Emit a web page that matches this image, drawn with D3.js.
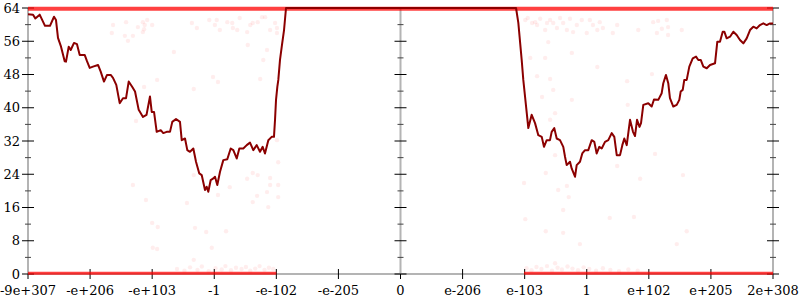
<!DOCTYPE html>
<html>
<head>
<meta charset="utf-8">
<script src="https://cdn.jsdelivr.net/npm/d3@7"></script>
<style>
body { margin: 0; background: #fff; }
text { font-family: "DejaVu Serif", serif; font-size: 13px; fill: #000; }
</style>
</head>
<body>
<div id="chart-area"></div>
<script>
/* float64 ordering vs. count, with outliers */

var xLabels = ["-9e+307", "-e+206", "-e+103", "-1", "-e-102", "-e-205", "0",
    "e-206", "e-103", "1", "e+102", "e+205", "2e+308"];
var xTicks = [0, 1, 2, 3, 4, 5, 6, 7, 8, 9, 10, 11, 12];
var yMajor = [0, 8, 16, 24, 32, 40, 48, 56, 64];
var yMinor = [4, 12, 20, 28, 36, 44, 52, 60];

// median line
var lineX = [0, 0.081, 0.118, 0.188, 0.274, 0.354, 0.419, 0.451, 0.483, 0.532,
    0.591, 0.612, 0.656, 0.688, 0.741, 0.789, 0.833, 0.913, 0.950, 0.994,
    1.047, 1.128, 1.171, 1.224, 1.273, 1.332, 1.369, 1.422, 1.477, 1.530,
    1.579, 1.622, 1.675, 1.724, 1.783, 1.852, 1.909, 1.965, 1.993, 2.030,
    2.073, 2.138, 2.179, 2.234, 2.287, 2.324, 2.384, 2.448, 2.476, 2.529,
    2.566, 2.609, 2.663, 2.706, 2.759, 2.798, 2.851, 2.878, 2.904, 2.943,
    2.985, 3.012, 3.049, 3.093, 3.146, 3.210, 3.265, 3.307, 3.362, 3.404,
    3.468, 3.523, 3.576, 3.629, 3.684, 3.737, 3.780, 3.817, 3.871, 3.925,
    3.962, 3.979, 3.995, 4.016, 4.032, 4.059, 4.091, 4.124, 4.156,
    7.861, 7.898, 7.952, 7.978, 8.017, 8.059, 8.113, 8.167, 8.220, 8.275,
    8.311, 8.355, 8.408, 8.435, 8.477, 8.516, 8.569, 8.622, 8.650, 8.677,
    8.730, 8.757, 8.811, 8.838, 8.891, 8.928, 8.972, 9.025, 9.080, 9.122,
    9.160, 9.202, 9.241, 9.294, 9.347, 9.402, 9.444, 9.483, 9.536, 9.573,
    9.605, 9.644, 9.697, 9.745, 9.777, 9.810, 9.850, 9.874, 9.911, 9.991,
    10.046, 10.083, 10.152, 10.207, 10.233, 10.276, 10.313, 10.340, 10.394, 10.449,
    10.491, 10.513, 10.546, 10.571, 10.610, 10.652, 10.707, 10.760, 10.797, 10.836,
    10.878, 10.933, 10.986, 11.066, 11.103, 11.146, 11.190, 11.216, 11.254, 11.308,
    11.361, 11.415, 11.468, 11.522, 11.576, 11.630, 11.683, 11.737, 11.790, 11.844,
    11.898, 11.952, 12];
var lineY = [62.5, 62.4, 61.5, 62.4, 59.7, 59.7, 61.9, 61.1, 56.8, 54.7,
    51.2, 51.1, 54.7, 53.9, 55.6, 55.3, 52.7, 52.7, 51.2, 49.6,
    49.9, 50.3, 48.7, 46.3, 47.9, 47.9, 47.2, 45.5, 41.1, 42.3,
    42.3, 46.3, 45.1, 43.9, 39.5, 37.8, 38.3, 42.7, 39.0, 39.0,
    34.2, 34.6, 33.9, 34.2, 34.2, 36.6, 37.3, 36.6, 32.2, 32.6,
    29.8, 29.4, 30.2, 27.0, 24.2, 23.8, 20.2, 21.0, 19.8, 22.6,
    23.0, 23.4, 21.4, 24.6, 27.4, 27.6, 30.2, 29.8, 27.8, 30.2,
    30.2, 31.0, 31.6, 29.8, 31.0, 29.4, 30.6, 29.0, 32.2, 33.0,
    33.0, 37.1, 41.9, 45.0, 46.7, 51.5, 55.1, 58.7, 64,
    64, 60.4, 51.5, 46.7, 41.1, 35.1, 38.3, 36.3, 33.4, 33.0,
    30.6, 32.2, 32.2, 34.2, 35.1, 32.6, 32.2, 30.6, 28.2, 26.2,
    27.0, 25.4, 23.4, 26.2, 27.0, 29.0, 29.8, 29.8, 32.2, 31.8,
    29.0, 30.6, 30.2, 31.8, 32.2, 33.9, 33.0, 28.6, 28.6, 31.0,
    32.6, 31.0, 37.1, 34.2, 33.2, 37.1, 35.4, 36.3, 40.7, 41.1,
    40.3, 42.0, 41.9, 43.5, 45.9, 47.9, 45.9, 42.3, 40.3, 40.7,
    41.9, 43.9, 44.3, 46.7, 46.7, 49.9, 51.9, 52.3, 51.5, 51.5,
    49.9, 49.5, 50.3, 50.7, 55.9, 55.9, 58.3, 58.3, 56.7, 57.1,
    58.3, 57.5, 56.3, 55.5, 56.7, 58.7, 59.5, 59.1, 59.9, 60.3,
    59.9, 60.3, 60.3];

// scattered samples
var dotX = [1.37, 1.35, 1.58, 1.56, 1.61, 1.69, 1.77, 1.85, 1.88, 1.92, 1.85, 1.87, 2.00,
    2.35, 2.08, 1.87, 2.67, 2.64, 2.72, 1.74, 2.92, 3.01, 3.04, 3.09, 3.21, 3.29, 3.30,
    3.37, 3.41, 3.53, 3.58, 3.62, 3.70, 3.77, 3.82, 3.90, 3.98, 4.01, 4.01, 3.85, 3.79,
    3.54, 2.98, 3.06, 3.74, 4.01,
    8.01, 8.05, 8.12, 8.17, 8.20, 8.25, 8.36, 8.41, 8.46, 8.52, 8.57, 8.62, 8.68, 8.73,
    8.78, 8.84, 8.92, 9.00, 9.05, 9.10, 9.17, 8.33, 8.38, 8.09, 8.33, 8.76, 8.20, 8.41,
    8.46, 8.28, 8.76, 9.17, 8.49, 8.41, 9.21, 9.26, 9.49, 9.42, 9.83, 10.07, 10.15,
    10.29, 10.21, 10.31, 10.13, 10.31, 10.53, 9.65, 10.05, 9.66,
    1.69, 1.90, 2.00, 2.09, 2.01, 2.08, 2.56, 2.69, 2.67, 2.67, 4.03, 3.62, 3.70, 3.90,
    3.90, 4.03, 3.25, 3.53, 3.85, 3.69, 3.62, 4.03, 3.87, 3.06, 2.87, 3.19, 2.96,
    8.49, 8.34, 7.99, 8.54, 8.68, 8.71, 8.62, 8.01, 8.34, 8.62, 8.89, 8.49, 10.10,
    9.49, 9.86, 10.55, 9.37, 9.76, 10.61, 10.45,
    2.40, 2.52, 2.61, 2.73, 2.80, 2.91, 3.02, 3.12, 3.18, 3.27, 3.35, 3.44, 3.51, 3.58,
    3.66, 3.73, 3.81, 3.88, 3.95, 8.03, 8.11, 8.19, 8.27, 8.36, 8.44, 8.53, 8.60, 8.69,
    8.77, 8.86, 8.95, 9.04, 9.15, 9.26, 9.38, 9.52, 9.67, 9.82];
var dotY = [59.9, 58.0, 60.6, 57.3, 56.1, 57.3, 59.4, 60.6, 59.9, 61.1, 58.2, 58.9, 59.9,
    53.4, 46.7, 45.0, 44.5, 60.4, 59.2, 36.8, 61.1, 59.9, 61.1, 58.7, 60.6, 60.4, 59.2,
    58.7, 61.6, 58.2, 59.9, 60.4, 60.6, 61.8, 61.8, 58.7, 60.4, 59.2, 58.0, 53.9, 51.5,
    55.1, 47.4, 46.2, 46.9, 32.2,
    61.1, 61.6, 60.4, 60.6, 59.9, 61.4, 60.4, 61.1, 60.4, 59.2, 61.6, 60.4, 58.7, 61.4,
    58.2, 59.9, 61.1, 58.0, 61.1, 59.9, 58.7, 58.7, 55.8, 52.0, 52.0, 53.2, 47.6, 46.9,
    44.3, 42.6, 41.9, 49.8, 38.7, 37.1, 60.6, 59.2, 59.9, 58.0, 58.7, 60.6, 60.9,
    61.1, 59.0, 59.4, 58.0, 57.5, 58.7, 46.4, 48.1, 40.7,
    21.4, 17.8, 12.3, 11.3, 6.3, 6.0, 17.1, 11.1, 3.4, 23.8, 26.9, 24.3, 23.8, 23.1,
    21.4, 21.4, 20.9, 22.9, 19.7, 18.8, 17.3, 18.5, 16.1, 19.0, 10.1, 10.3, 6.3,
    28.6, 24.3, 21.9, 20.2, 21.2, 18.5, 15.4, 13.2, 10.3, 9.9, 7.2, 2.6, 28.9,
    26.0, 22.9, 23.8, 13.5, 13.7, 10.3, 7.2,
    1.2, 0.8, 1.6, 1.0, 1.8, 0.7, 1.4, 1.1, 1.9, 0.9, 1.5, 1.2, 1.7, 0.8,
    1.3, 1.9, 1.0, 1.5, 1.2, 1.4, 0.9, 1.7, 1.2, 1.9, 0.8, 1.5, 1.1, 1.8,
    1.3, 0.9, 1.6, 1.2, 0.8, 1.4, 1.0, 0.7, 1.1, 0.8];

// dense sample bands
var bandFrom = [0, 0, 7.99];
var bandTo = [12, 4.0, 12];
var bandValue = [63.8, 0.2, 0.2];

var margin = { left: 28, right: 27, top: 8, bottom: 26 };
var width = 800 - margin.left - margin.right;
var height = 300 - margin.top - margin.bottom;

var svg = d3.select("#chart-area")
    .append("svg")
    .attr("width", width + margin.left + margin.right)
    .attr("height", height + margin.top + margin.bottom);

var g = svg.append("g")
    .attr("transform", "translate(" + margin.left + "," + margin.top + ")");

var x = d3.scaleLinear().domain([0, 12]).range([0, width]);
var y = d3.scaleLinear().domain([0, 64]).range([height, 0]);

// gray axis lines
function vAxis(xpos, labels) {
    var a = g.append("g").attr("transform", "translate(" + x(xpos) + ",0)");
    a.append("line").attr("y1", 0).attr("y2", height)
        .attr("stroke", "#b4b4b4").attr("stroke-width", 2);
    a.selectAll(".minor").data(yMinor).enter().append("line")
        .attr("x1", -3).attr("x2", 3)
        .attr("y1", function(d) { return y(d); })
        .attr("y2", function(d) { return y(d); })
        .attr("stroke", "#444").attr("stroke-width", 1);
    a.selectAll(".major").data(yMajor).enter().append("line")
        .attr("x1", -6).attr("x2", 6)
        .attr("y1", function(d) { return y(d); })
        .attr("y2", function(d) { return y(d); })
        .attr("stroke", "#000").attr("stroke-width", 1);
    if (labels) {
        a.selectAll("text").data(yMajor).enter().append("text")
            .attr("x", -8)
            .attr("y", function(d) { return y(d); })
            .attr("dy", "0.35em")
            .attr("text-anchor", "end")
            .text(function(d) { return d; });
    }
}

var xa = g.append("g").attr("transform", "translate(0," + height + ")");
xa.append("line").attr("x1", 0).attr("x2", width)
    .attr("stroke", "#b4b4b4").attr("stroke-width", 2);
xa.selectAll(".tick").data(xTicks).enter().append("line")
    .attr("x1", function(d) { return x(d); })
    .attr("x2", function(d) { return x(d); })
    .attr("y1", -5).attr("y2", 5)
    .attr("stroke", "#000");
xa.selectAll("text").data(xTicks).enter().append("text")
    .attr("x", function(d) { return x(d); })
    .attr("y", 21)
    .attr("text-anchor", "middle")
    .text(function(d, i) { return xLabels[i]; });

vAxis(0, true);
vAxis(6, false);
vAxis(12, false);

// bands
g.selectAll(".band").data(bandValue).enter().append("line")
    .attr("x1", function(d, i) { return x(bandFrom[i]); })
    .attr("x2", function(d, i) { return x(bandTo[i]); })
    .attr("y1", function(d) { return y(d); })
    .attr("y2", function(d) { return y(d); })
    .attr("stroke", "#f00")
    .attr("stroke-opacity", 0.75)
    .attr("stroke-width", function(d, i) { return i == 0 ? 4 : 3; });

g.selectAll(".dot").data(dotX).enter().append("circle")
    .attr("cx", function(d) { return x(d); })
    .attr("cy", function(d, i) { return y(dotY[i]); })
    .attr("r", 2.2)
    .attr("fill", "#f00")
    .attr("fill-opacity", 0.07);

var line = d3.line()
    .x(function(d) { return x(d); })
    .y(function(d, i) { return y(lineY[i]); });

g.append("path")
    .attr("d", line(lineX))
    .attr("fill", "none")
    .attr("stroke", "#8b0000")
    .attr("stroke-width", 2)
    .attr("stroke-linejoin", "round");
</script>
</body>
</html>
